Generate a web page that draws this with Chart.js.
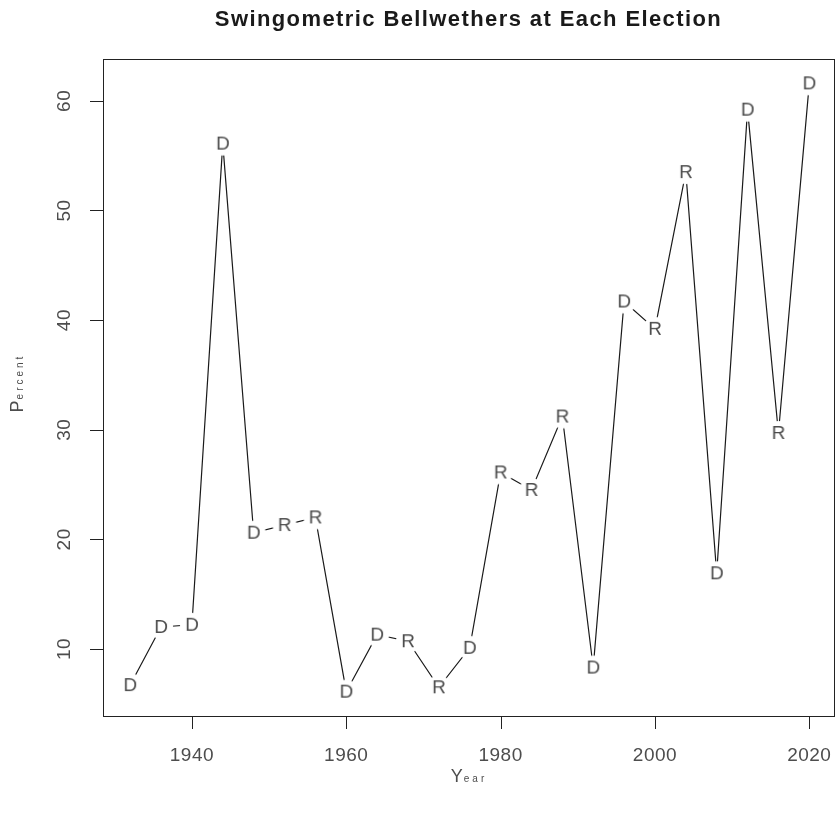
<!DOCTYPE html>
<html>
<head>
<meta charset="utf-8">
<script src="https://cdn.jsdelivr.net/npm/chart.js@4"></script>
<style>
  html, body { margin: 0; padding: 0; background: #fff; overflow: hidden; }
  #wrap { width: 835px; height: 819px; }
</style>
</head>
<body>
<div id="wrap"><canvas id="chart" width="835" height="819"></canvas></div>
<script>
// values
const years = [1932, 1936, 1940, 1944, 1948, 1952, 1956, 1960, 1964, 1968, 1972, 1976,
               1980, 1984, 1988, 1992, 1996, 2000, 2004, 2008, 2012, 2016, 2020];
const percent = [6.7, 12.0, 12.2, 56.1, 20.6, 21.3, 22.0, 6.1, 11.3, 10.7, 6.5, 10.1,
                 26.1, 24.5, 31.2, 8.3, 41.7, 39.2, 53.5, 16.9, 59.2, 29.7, 61.6];
const party = ['D', 'D', 'D', 'D', 'D', 'R', 'R', 'D', 'D', 'R', 'R', 'D',
               'R', 'R', 'R', 'D', 'D', 'R', 'R', 'D', 'D', 'R', 'D'];
const xTicks = [1940, 1960, 1980, 2000, 2020];
const yTicks = [10, 20, 30, 40, 50, 60];
const chartTitle = 'Swingometric Bellwethers at Each Election';

const textGray = '#4d4d4d';
const labelFont = '"Liberation Sans", Arial, sans-serif';

// letter markers: white disc to break the line, then the letter
function makeMarker(letter) {
    const c = document.createElement('canvas');
    c.width = 26; c.height = 26;
    const g = c.getContext('2d');
    g.fillStyle = '#fff';
    g.beginPath();
    g.arc(13, 13, 12, 0, Math.PI * 2);
    g.fill();
    g.fillStyle = textGray;
    g.font = '19px ' + labelFont;
    g.textAlign = 'center';
    g.textBaseline = 'middle';
    g.fillText(letter, 13, 14);
    return c;
}
const markers = { D: makeMarker('D'), R: makeMarker('R') };

// R-style frame, ticks, labels and titles
const baseAxes = {
    id: 'baseAxes',
    afterDraw(chart) {
        const ctx = chart.ctx;
        const a = chart.chartArea;
        const xs = chart.scales.x, ys = chart.scales.y;
        ctx.save();
        ctx.strokeStyle = '#222';
        ctx.lineWidth = 1;
        ctx.strokeRect(a.left + 0.5, a.top + 0.5, a.right - a.left, a.bottom - a.top);

        ctx.beginPath();
        xTicks.forEach(v => {
            const px = Math.round(xs.getPixelForValue(v)) + 0.5;
            ctx.moveTo(px, a.bottom);
            ctx.lineTo(px, a.bottom + 13);
        });
        yTicks.forEach(v => {
            const py = Math.round(ys.getPixelForValue(v)) + 0.5;
            ctx.moveTo(a.left, py);
            ctx.lineTo(a.left - 13, py);
        });
        ctx.stroke();

        ctx.fillStyle = textGray;
        ctx.font = '19px ' + labelFont;
        ctx.letterSpacing = '0.5px';
        ctx.textAlign = 'center';
        ctx.textBaseline = 'middle';
        xTicks.forEach(v => ctx.fillText(String(v), xs.getPixelForValue(v), 756));
        yTicks.forEach(v => {
            ctx.save();
            ctx.translate(65, ys.getPixelForValue(v));
            ctx.rotate(-Math.PI / 2);
            ctx.fillText(String(v), 0, 0);
            ctx.restore();
        });
        ctx.letterSpacing = '0px';

        // axis titles: big first letter, small spaced remainder
        function splitTitle(word, big, small) {
            ctx.textAlign = 'left';
            ctx.textBaseline = 'alphabetic';
            ctx.font = big + 'px ' + labelFont;
            const w1 = ctx.measureText(word[0]).width;
            ctx.font = small + 'px ' + labelFont;
            const rest = word.slice(1).split('');
            const gap = 3;
            const w2 = rest.reduce((s, ch) => s + ctx.measureText(ch).width + gap, 0);
            let x = -(w1 + w2) / 2;
            ctx.font = big + 'px ' + labelFont;
            ctx.fillText(word[0], x, 0);
            x += w1 + 1;
            ctx.font = small + 'px ' + labelFont;
            rest.forEach(ch => {
                ctx.fillText(ch, x, 0);
                x += ctx.measureText(ch).width + gap;
            });
        }
        const midX = (a.left + a.right) / 2;
        const midY = (a.top + a.bottom) / 2;
        ctx.save();
        ctx.translate(midX, 782);
        splitTitle('Year', 18, 10);
        ctx.restore();
        ctx.save();
        ctx.translate(23, midY - 4);
        ctx.rotate(-Math.PI / 2);
        splitTitle('Percent', 18, 10);
        ctx.restore();

        ctx.fillStyle = '#1a1a1a';
        ctx.font = 'bold 22px ' + labelFont;
        ctx.letterSpacing = '1.4px';
        ctx.textAlign = 'center';
        ctx.textBaseline = 'middle';
        ctx.fillText(chartTitle, midX, 20);
        ctx.restore();
    }
};

new Chart(document.getElementById('chart'), {
    type: 'line',
    data: {
        datasets: [{
            data: years.map((y, i) => ({ x: y, y: percent[i] })),
            borderColor: '#1a1a1a',
            borderWidth: 1.2,
            tension: 0,
            fill: false,
            pointStyle: ctx => markers[party[ctx.dataIndex]],
            pointRadius: 13,
            pointHoverRadius: 13,
            clip: false
        }]
    },
    options: {
        responsive: false,
        animation: false,
        events: [],
        layout: { autoPadding: false, padding: { left: 103, top: 59, right: 1, bottom: 103 } },
        plugins: { legend: { display: false }, tooltip: { enabled: false }, title: { display: false } },
        scales: {
            x: { type: 'linear', display: false, min: 1928.48, max: 2023.2 },
            y: { type: 'linear', display: false, min: 3.88, max: 63.82 }
        }
    },
    plugins: [baseAxes]
});
</script>
</body>
</html>
